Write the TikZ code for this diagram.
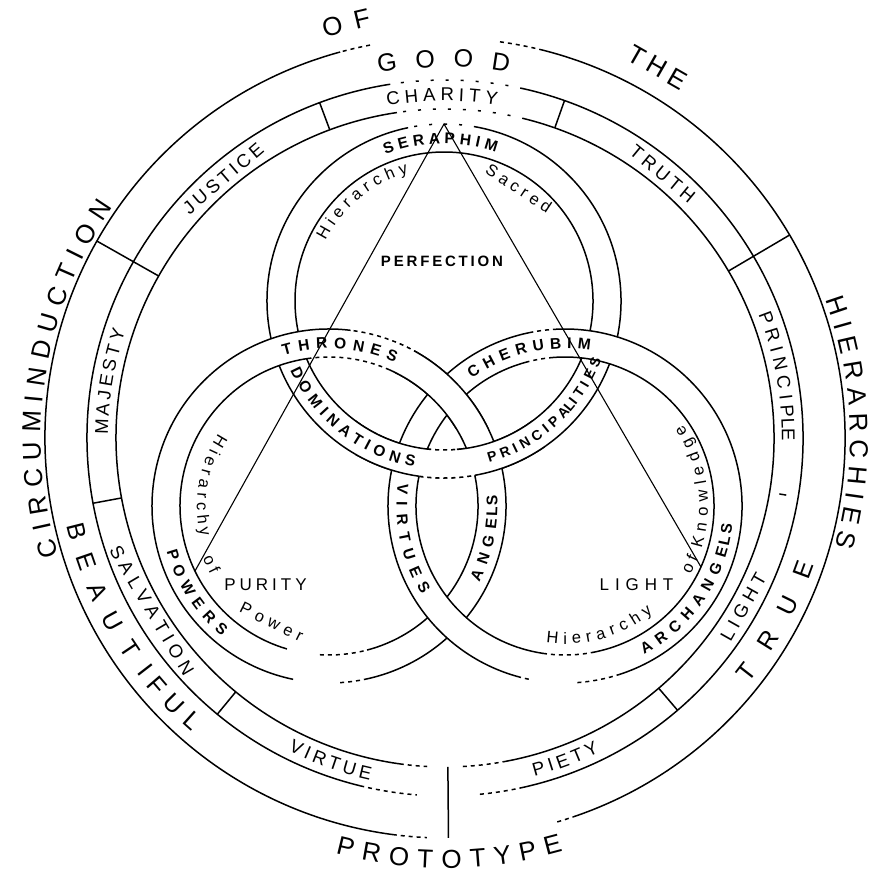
\documentclass[tikz,border=0pt]{standalone}
\usepackage{fontspec}
\setmainfont{Liberation Sans}
\usetikzlibrary{calc}

% font keys: \fnt<key> selects the font, \fsz<key> is its size in pt
\def\fntBig{\fontsize{26}{26}\selectfont}\def\fszBig{26}
\def\fntMid{\fontsize{25}{25}\selectfont}\def\fszMid{25}
\def\fntBand{\fontsize{18.5}{18.5}\selectfont}\def\fszBand{18.5}
\def\fntRing{\fontsize{15.5}{15.5}\selectfont\bfseries}\def\fszRing{15.5}
\def\fntRingS{\fontsize{14}{14}\selectfont\bfseries}\def\fszRingS{14}
\def\fntSmall{\fontsize{16.5}{16.5}\selectfont}\def\fszSmall{16.5}
\def\fntHor{\fontsize{17}{17}\selectfont}\def\fszHor{17}
\def\fntPerf{\fontsize{15}{15}\selectfont\bfseries}\def\fszPerf{15}

% advance widths of Liberation Sans (per 1000 em)
\newcommand\setW[2]{\expandafter\def\csname myW#1\endcsname{#2}}
\setW{A}{667}\setW{B}{667}\setW{C}{722}\setW{D}{722}\setW{E}{667}\setW{F}{611}
\setW{G}{778}\setW{H}{722}\setW{I}{278}\setW{J}{500}\setW{K}{667}\setW{L}{556}
\setW{M}{833}\setW{N}{722}\setW{O}{778}\setW{P}{667}\setW{R}{722}\setW{S}{667}
\setW{T}{611}\setW{U}{722}\setW{V}{667}\setW{W}{944}\setW{Y}{667}
\setW{a}{556}\setW{c}{500}\setW{d}{556}\setW{e}{556}\setW{f}{278}\setW{g}{556}
\setW{h}{556}\setW{i}{222}\setW{k}{500}\setW{l}{222}\setW{n}{556}\setW{o}{556}
\setW{r}{333}\setW{s}{500}\setW{w}{722}\setW{y}{500}

\tikzset{
  ln/.style={line width=1.5pt},
  faint/.style={dash pattern=on 4pt off 4pt},
  vfaint/.style={dash pattern=on 3pt off 12pt},
  tri/.style={line width=1.1pt},
}

% arc segment: cx, cy (down), r, start, end, style
\newcommand\mySeg[6]{\draw[ln,#6] (#1,-#2) ++(#4:#3) arc[start angle=#4, end angle=#5, radius=#3];}

% width of letter \ch at size #1 -> \myWd
\newcommand\myLetterW[1]{%
  \edef\myWc{\csname myW\ch\endcsname}%
  \pgfmathsetmacro\myWd{\myWc/1000*(#1)}%
}

% measure letters: size, list -> \mySum, \myN, \myWF, \myWL
\newcommand\myMeasure[2]{%
  \gdef\mySum{0}%
  \foreach \ch [count=\kk] in {#2}{%
    \myLetterW{#1}%
    \pgfmathsetmacro\myTmp{\mySum+\myWd}%
    \xdef\mySum{\myTmp}%
    \xdef\myN{\kk}%
    \ifnum\kk=1 \xdef\myWF{\myWd}\fi
    \xdef\myWL{\myWd}%
  }%
}

% letters along a circle, one node per letter:
% cx, cy (down), baseline radius, mid angle, step (span = step*(n-1)), +1 tops out / -1 tops in, font key, letters
\newcommand\myArcWord[8]{%
  \edef\mySz{\csname fsz#7\endcsname}%
  \myMeasure{\mySz}{#8}%
  \pgfmathsetmacro\mySpan{(#5)*0.0174533*(#3)}%
  \pgfmathsetmacro\myGap{(\mySpan*(\myN-1)-(\mySum-\myWF/2-\myWL/2))/max(\myN-1,1)}%
  \pgfmathsetmacro\myTot{\mySum+(\myN-1)*\myGap}%
  \gdef\myAcc{0}%
  \foreach \ch in {#8}{%
    \myLetterW{\mySz}%
    \pgfmathsetmacro\myS{\myAcc+\myWd/2-\myTot/2}%
    \pgfmathsetmacro\myAng{#4-(#6)*(\myS/(#3))*57.29578}%
    \pgfmathsetmacro\myRot{\myAng-(#6)*90}%
    \path (#1,-#2) ++(\myAng:#3) node[anchor=base,inner sep=0pt,rotate=\myRot,font=\csname fnt#7\endcsname]{\ch};%
    \pgfmathsetmacro\myTmp{\myAcc+\myWd+\myGap}%
    \xdef\myAcc{\myTmp}%
  }%
}

% build a letter-spaced word in \myWord (after \myMeasure and \myGap)
\newcommand\myBuild[1]{%
  \gdef\myWord{}%
  \foreach \ch [count=\kk] in {#1}{%
    \ifnum\kk=\myN \xdef\myWord{\myWord\ch}\else \xdef\myWord{\myWord\ch\kern\myGap pt}\fi
  }%
}

% short word on a circle as one straight tangent node (same arguments as \myArcWord)
\newcommand\myArcLine[8]{%
  \edef\mySz{\csname fsz#7\endcsname}%
  \myMeasure{\mySz}{#8}%
  \pgfmathsetmacro\mySpan{(#5)*0.0174533*(#3)}%
  \pgfmathsetmacro\myGap{(\mySpan*(\myN-1)-(\mySum-\myWF/2-\myWL/2))/max(\myN-1,1)}%
  \myBuild{#8}%
  \pgfmathsetmacro\myHalf{(\mySum+(\myN-1)*\myGap)/2}%
  \pgfmathsetmacro\myRad{(#3)-\myHalf*\myHalf/(4*(#3))}%
  \pgfmathsetmacro\myRot{#4-(#6)*90}%
  \path (#1,-#2) ++(#4:\myRad) node[anchor=base,inner sep=0pt,rotate=\myRot,font=\csname fnt#7\endcsname]{\myWord};%
}

% horizontal letter-spaced word as one node: x centre, baseline y (down), step, font key, letters
\newcommand\myLine[5]{%
  \edef\mySz{\csname fsz#4\endcsname}%
  \myMeasure{\mySz}{#5}%
  \pgfmathsetmacro\myGap{((#3)*(\myN-1)-(\mySum-\myWF/2-\myWL/2))/max(\myN-1,1)}%
  \myBuild{#5}%
  \node[anchor=base,inner sep=0pt,font=\csname fnt#4\endcsname] at (#1,-#2) {\myWord};%
}

\newcommand\myRingT{%
  \fill[white,even odd rule] (444,-301) circle[radius=177] (444,-301) circle[radius=149];%
  \mySeg{444}{301}{177}{101.7}{262}{}%
  \mySeg{444}{301}{177}{262}{280}{faint}%
  \mySeg{444}{301}{177}{280}{439.3}{}%
  \mySeg{444}{301}{177}{79.3}{101.7}{vfaint}%
  \mySeg{444}{301}{149}{275}{623.5}{}%
  \mySeg{444}{301}{149}{263.5}{275}{faint}%
}
\newcommand\myRingL{%
  \fill[white,even odd rule] (329,-506) circle[radius=177] (329,-506) circle[radius=149];%
  \mySeg{329}{506}{177}{282.4}{420}{}%
  \mySeg{329}{506}{177}{60}{83}{faint}%
  \mySeg{329}{506}{177}{83}{258.3}{}%
  \mySeg{329}{506}{177}{273.6}{282.4}{faint}%
  \mySeg{329}{506}{149}{284.8}{426}{}%
  \mySeg{329}{506}{149}{66}{97}{faint}%
  \mySeg{329}{506}{149}{97}{253.6}{}%
  \mySeg{329}{506}{149}{266.5}{284.8}{faint}%
}
\newcommand\myRingR{%
  \fill[white,even odd rule] (565,-506) circle[radius=177] (565,-506) circle[radius=149];%
  \mySeg{565}{506}{177}{288}{452.6}{}%
  \mySeg{565}{506}{177}{92.6}{100.4}{faint}%
  \mySeg{565}{506}{177}{100.4}{254.3}{}%
  \mySeg{565}{506}{177}{254.3}{258.6}{faint}%
  \mySeg{565}{506}{177}{274}{288}{faint}%
  \mySeg{565}{506}{149}{280.8}{454.6}{}%
  \mySeg{565}{506}{149}{94.6}{104.8}{faint}%
  \mySeg{565}{506}{149}{104.8}{261.5}{}%
  \mySeg{565}{506}{149}{261.5}{280.8}{faint}%
}

\begin{document}
\begin{tikzpicture}[x=1pt,y=1pt]
\fill[white] (0,0) rectangle (883,-873);
\useasboundingbox (0,0) rectangle (883,-873);
\coordinate (O) at (445,-438);

% concentric circles
\mySeg{445}{438}{400}{288.7}{435.8}{}
\mySeg{445}{438}{400}{75.8}{82.1}{faint}
\mySeg{445}{438}{400}{100.8}{105.2}{faint}
\mySeg{445}{438}{400}{105.2}{262.5}{}
\mySeg{445}{438}{400}{262.5}{267.4}{faint}
\mySeg{445}{438}{400}{286.3}{288.7}{faint}
\mySeg{445}{438}{358}{282.1}{437.4}{}
\mySeg{445}{438}{358}{77.4}{98.8}{vfaint}
\mySeg{445}{438}{358}{98.8}{256.3}{}
\mySeg{445}{438}{358}{256.3}{265.5}{faint}
\mySeg{445}{438}{358}{275.6}{282.1}{faint}
\mySeg{445}{438}{329}{280.2}{435.9}{}
\mySeg{445}{438}{329}{75.9}{98.4}{vfaint}
\mySeg{445}{438}{329}{98.4}{262.1}{}
\mySeg{445}{438}{329}{262.1}{266.9}{faint}
\mySeg{445}{438}{329}{273.1}{280.2}{faint}

% dividers
\foreach \a in {30.5,150.5,270.5} \draw[ln] (O) ++(\a:329) -- ++(\a:71);
\foreach \a in {70.5,110.5,190.5,230.5,310.5} \draw[ln] (O) ++(\a:329) -- ++(\a:29);
\draw[ln] (O) ++(350.5:339) -- ++(350.5:7);

% interlaced rings
\myRingT
\myRingL
\myRingR
\begin{scope}
  \clip (355,-420) rectangle (545,-500);
  \myRingT
\end{scope}
\begin{scope}
  \clip (395,-335) rectangle (500,-428);
  \myRingL
\end{scope}

% triangle
\coordinate (apex) at (444,-124);
\coordinate (vl) at (195,-571);
\coordinate (vr) at (701,-567);
\draw[tri] (vl) -- (apex) -- (vr);

% outer words
\myArcWord{445}{438}{404}{171}{3.5}{1}{Big}{C,I,R,C,U,M,I,N,D,U,C,T,I,O,N}
\myArcLine{445}{438}{418}{103.4}{3.1}{1}{Big}{O,F}
\myArcLine{445}{438}{419}{60.2}{3.25}{1}{Big}{T,H,E}
\myArcWord{445}{438}{405}{2.2}{3.3}{1}{Big}{H,I,E,R,A,R,C,H,I,E,S}
\myArcWord{445}{438}{430}{270.6}{3.55}{-1}{Big}{P,R,O,T,O,T,Y,P,E}

% band A-B
\myArcWord{445}{438}{371}{90.2}{5.77}{1}{Mid}{G,O,O,D}
\myArcWord{445}{438}{388}{210.6}{4.25}{-1}{Mid}{B,E,A,U,T,I,F,U,L}
\myArcWord{445}{438}{390}{331}{5.87}{-1}{Mid}{T,R,U,E}

% band B-C
\myArcWord{445}{438}{337}{10.5}{2.5}{1}{Band}{P,R,I,N,C,I,P,L,E}
\myArcLine{445}{438}{337}{50.5}{2.8}{1}{Band}{T,R,U,T,H}
\myArcWord{445}{438}{337}{90.5}{2.75}{1}{Band}{C,H,A,R,I,T,Y}
\myArcLine{445}{438}{337}{130.5}{2.5}{1}{Band}{J,U,S,T,I,C,E}
\myArcWord{445}{438}{337}{170.5}{2.6}{1}{Band}{M,A,J,E,S,T,Y}
\myArcLine{445}{438}{350}{210.5}{2.55}{-1}{Band}{S,A,L,V,A,T,I,O,N}
\myArcWord{445}{438}{350}{250.5}{2.44}{-1}{Band}{V,I,R,T,U,E}
\myArcWord{445}{438}{350}{290.5}{2.35}{-1}{Band}{P,I,E,T,Y}
\myArcLine{445}{438}{350}{330.5}{2.4}{-1}{Band}{L,I,G,H,T}

% ring bands
\myArcWord{444}{301}{157.5}{91.3}{5.26}{1}{Ring}{S,E,R,A,P,H,I,M}
\myArcWord{444}{301}{168.5}{232}{5.2}{-1}{Ring}{D,O,M,I,N,A,T,I,O,N,S}
\myArcWord{444}{301}{168}{312.5}{3.9}{-1}{RingS}{P,R,I,N,C,I,P,A,L,I,T,I,E,S}
\myArcWord{329}{506}{157.5}{86}{6.3}{1}{Ring}{T,H,R,O,N,E,S}
\myArcWord{329}{506}{168.5}{213}{6.3}{-1}{Ring}{P,O,W,E,R,S}
\myArcWord{329}{506}{168.5}{348.6}{5.4}{-1}{Ring}{A,N,G,E,L,S}
\myArcWord{565}{506}{157.5}{103.5}{5.86}{1}{Ring}{C,H,E,R,U,B,I,M}
\myArcWord{565}{506}{168.5}{192}{6}{-1}{Ring}{V,I,R,T,U,E,S}
\myArcWord{565}{506}{168.5}{326}{5.8}{-1}{Ring}{A,R,C,H,A,N,G,E,L,S}

% small inner words
\myArcWord{444}{301}{133}{129.2}{5.4}{1}{Small}{H,i,e,r,a,r,c,h,y}
\myArcLine{444}{301}{132}{56.4}{5.64}{1}{Small}{S,a,c,r,e,d}
\myArcWord{329}{506}{132}{170.2}{5.3}{-1}{Small}{H,i,e,r,a,r,c,h,y}
\myArcLine{329}{506}{137}{206.4}{4.5}{-1}{Small}{o,f}
\myArcLine{329}{506}{137}{243.7}{6.25}{-1}{Small}{P,o,w,e,r}
\myArcWord{565}{506}{138}{285.8}{5.4}{-1}{Small}{H,i,e,r,a,r,c,h,y}
\myArcLine{565}{506}{143}{334.9}{4.5}{-1}{Small}{o,f}
\myArcWord{565}{506}{143}{8.7}{6}{-1}{Small}{K,n,o,w,l,e,d,g,e}

% horizontal words
\myLine{442}{266}{11.4}{Perf}{P,E,R,F,E,C,T,I,O,N}
\myLine{265.5}{590}{14.2}{Hor}{P,U,R,I,T,Y}
\myLine{636.5}{590}{14.75}{Hor}{L,I,G,H,T}
\end{tikzpicture}
\end{document}
